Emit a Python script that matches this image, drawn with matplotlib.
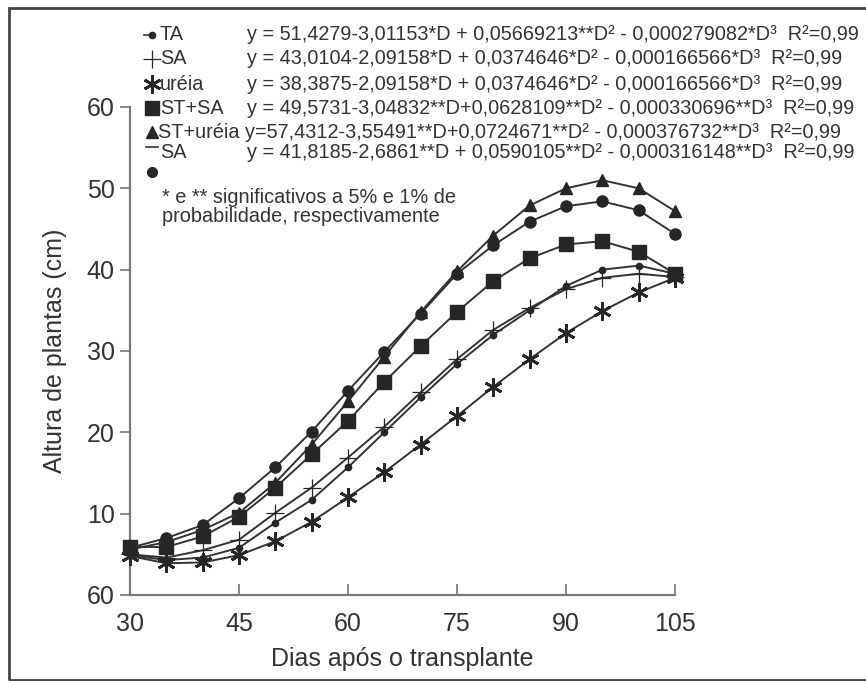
import matplotlib
matplotlib.use("Agg")
import matplotlib.pyplot as plt
from matplotlib.lines import Line2D
from matplotlib.patches import Rectangle

plt.rcParams['font.family'] = ['Liberation Sans', 'DejaVu Sans']

# days after transplant
dias = [30, 35, 40, 45, 50, 55, 60, 65, 70, 75, 80, 85, 90, 95, 100, 105]

# plant height (cm)
ta = [4.9, 4.3, 4.6, 5.8, 8.9, 11.7, 15.7, 20.0, 24.3, 28.4, 32.0, 35.0, 38.0, 40.0, 40.5, 39.5]
sa = [5.0, 4.6, 5.5, 6.8, 10.1, 13.2, 16.9, 20.7, 24.9, 29.0, 32.6, 35.3, 37.6, 39.0, 39.5, 39.1]
ureia = [4.8, 3.9, 4.0, 4.9, 6.6, 9.0, 12.0, 15.1, 18.5, 22.0, 25.6, 29.0, 32.2, 34.9, 37.2, 39.0]
st_sa = [5.9, 5.9, 7.2, 9.6, 13.2, 17.3, 21.4, 26.2, 30.6, 34.8, 38.6, 41.4, 43.1, 43.5, 42.2, 39.5]
st_ureia = [5.6, 6.5, 8.0, 10.1, 13.8, 18.5, 23.8, 29.3, 34.8, 39.8, 44.2, 47.9, 50.0, 51.0, 50.0, 47.2]
sa2 = [5.8, 7.0, 8.6, 11.9, 15.7, 20.1, 25.1, 29.9, 34.6, 39.5, 43.0, 45.9, 47.8, 48.4, 47.3, 44.4]

x_ticks = [30, 45, 60, 75, 90, 105]
y_ticks = [0, 10, 20, 30, 40, 50, 60]
y_ticklabels = ['60', '10', '20', '30', '40', '50', '60']

legend_labels = ['TA', 'SA', 'uréia', 'ST+SA', 'ST+uréia', 'SA']
legend_eqs = [
    'y = 51,4279-3,01153*D + 0,05669213**D² - 0,000279082*D³  R²=0,99',
    'y = 43,0104-2,09158*D + 0,0374646*D² - 0,000166566*D³  R²=0,99',
    'y = 38,3875-2,09158*D + 0,0374646*D² - 0,000166566*D³  R²=0,99',
    'y = 49,5731-3,04832**D+0,0628109**D² - 0,000330696**D³  R²=0,99',
    'y=57,4312-3,55491**D+0,0724671**D² - 0,000376732**D³  R²=0,99',
    'y = 41,8185-2,6861**D + 0,0590105**D² - 0,000316148**D³  R²=0,99',
]
footnote = '* e ** significativos a 5% e 1% de\nprobabilidade, respectivamente'

W, H = 866, 681
LINE = '#333333'
MARK = '#262626'
TXT = '#333333'
FS_LEG = 14.3

fig = plt.figure(figsize=(W / 100, H / 100), dpi=100, facecolor='white')


def fx(px):
    return px / W


def fy(py):
    return 1 - py / H


ax = fig.add_axes([fx(130), fy(595), fx(675) - fx(130), fy(107) - fy(595)])

styles = [
    dict(marker='o', ms=4.5),
    dict(marker='+', ms=13, mew=0.9),
    dict(marker=(6, 2, 0), ms=13, mew=2.0),
    dict(marker='s', ms=10),
    dict(marker='^', ms=8.5),
    dict(marker='o', ms=8),
]
series = [ta, sa, ureia, st_sa, st_ureia, sa2]

for vals, st in zip(series, styles):
    ax.plot(dias, vals, color=LINE, lw=1.4, mfc=MARK, mec=MARK, clip_on=False, zorder=3, **st)

ax.set_xlim(30, 105)
ax.set_ylim(0, 60)
ax.set_xticks(x_ticks)
ax.set_yticks(y_ticks)
ax.set_yticklabels(y_ticklabels)
ax.tick_params(axis='x', direction='in', length=8, width=1.2, color='#777777',
               labelsize=18, pad=12, labelcolor=TXT)
ax.tick_params(axis='y', direction='out', length=7, width=1.2, color='#777777',
               labelsize=18, pad=4, labelcolor=TXT)
for s in ['top', 'right']:
    ax.spines[s].set_visible(False)
for s in ['left', 'bottom']:
    ax.spines[s].set_color('#777777')
    ax.spines[s].set_linewidth(1.6)

ax.set_xlabel('Dias após o transplante', fontsize=18, color=TXT, labelpad=8)
ax.set_ylabel('Altura de plantas (cm)', fontsize=18, color=TXT, labelpad=14)

# legend with regression equations
row_y = [35, 59, 84, 108, 132, 153]
for i, (lab, eq, st) in enumerate(zip(legend_labels, legend_eqs, styles)):
    yy = fy(row_y[i])
    if i == 5:
        fig.add_artist(Line2D([fx(146), fx(158)], [fy(147)] * 2, color=LINE, lw=1.2,
                              transform=fig.transFigure))
        fig.add_artist(Line2D([fx(152)], [fy(172)], marker='o', ms=7, color=MARK,
                              transform=fig.transFigure))
    else:
        if i == 0:
            fig.add_artist(Line2D([fx(144), fx(153)], [yy, yy], color=LINE, lw=1.2,
                                  transform=fig.transFigure))
        fig.add_artist(Line2D([fx(152)], [yy], color=MARK, mfc=MARK, mec=MARK,
                              transform=fig.transFigure, **st))
    if i == 4:
        fig.text(fx(158), yy, lab + ' ' + eq, fontsize=FS_LEG, color=TXT,
                 va='center', ha='left')
    else:
        fig.text(fx(160), yy, lab, fontsize=FS_LEG, color=TXT, va='center', ha='left')
        fig.text(fx(247), yy, eq, fontsize=FS_LEG, color=TXT, va='center', ha='left')

fig.text(fx(162), fy(207), footnote, fontsize=FS_LEG, color=TXT, va='center',
         ha='left', linespacing=1.05)

# outer frame
fig.add_artist(Rectangle((fx(9), fy(680)), 1.2, fy(8) - fy(680), fill=False,
                         ec='#444444', lw=2, transform=fig.transFigure))

fig.savefig('out.png', dpi=100, facecolor='white')
